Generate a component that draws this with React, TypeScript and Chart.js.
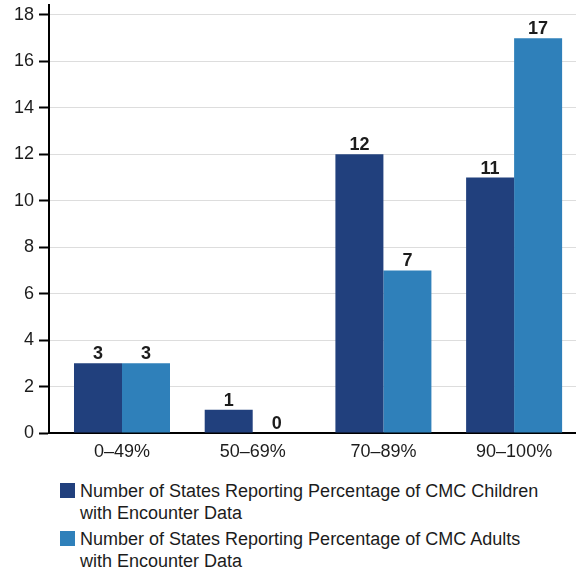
import React, { useEffect, useRef } from "react";
import { Chart, registerables } from "chart.js";

Chart.register(...registerables);

// Percentage bands of CMC members with encounter data
const categories = ["0–49%", "50–69%", "70–89%", "90–100%"];
// Number of states in each band
const childrenStates = [3, 1, 12, 11];
const adultsStates = [3, 0, 7, 17];
const seriesLabels = [
  ["Number of States Reporting Percentage of CMC Children", "with Encounter Data"],
  ["Number of States Reporting Percentage of CMC Adults", "with Encounter Data"],
];
const yTicks = [0, 2, 4, 6, 8, 10, 12, 14, 16, 18];

const DARK = "#21407d";
const LIGHT = "#2f80ba";
const TEXT = "#1c1c1c";
const FONT = "'Liberation Sans', Arial, Helvetica, sans-serif";

// Writes each bar's value just above it
const valueLabels = {
  id: "valueLabels",
  afterDatasetsDraw(chart: any) {
    const { ctx } = chart;
    ctx.save();
    ctx.fillStyle = TEXT;
    ctx.font = `bold 18px ${FONT}`;
    ctx.textAlign = "center";
    ctx.textBaseline = "alphabetic";
    chart.data.datasets.forEach((ds: any, i: number) => {
      const meta = chart.getDatasetMeta(i);
      meta.data.forEach((bar: any, j: number) => {
        ctx.fillText(String(ds.data[j]), bar.x, bar.y - 4);
      });
    });
    ctx.restore();
  },
};

export default function App() {
  const ref = useRef<HTMLCanvasElement>(null);

  useEffect(() => {
    if (!ref.current) return;
    const chart = new Chart(ref.current, {
      type: "bar",
      data: {
        labels: categories,
        datasets: [
          { label: seriesLabels[0].join(" "), data: childrenStates, backgroundColor: DARK },
          { label: seriesLabels[1].join(" "), data: adultsStates, backgroundColor: LIGHT },
        ],
      },
      options: {
        responsive: false,
        animation: false,
        layout: { padding: { top: 5, right: 0, left: 0, bottom: 0 } },
        datasets: { bar: { categoryPercentage: 0.7345, barPercentage: 1 } },
        plugins: {
          legend: { display: false },
          tooltip: { enabled: false },
        },
        scales: {
          x: {
            offset: true,
            grid: { display: false, drawTicks: false },
            border: { display: true, color: "#000", width: 2 },
            ticks: {
              color: TEXT,
              font: { family: FONT, size: 18 },
              padding: 8,
              maxRotation: 0,
            },
            afterBuildTicks(scale: any) {
              // leave a small gap between the value axis and the first band
              scale._startValue = -0.5585;
              scale._valueRange = 4.032;
            },
            afterFit(scale: any) {
              scale.height = 37;
              scale.paddingLeft = 0;
              scale.paddingRight = 0;
            },
          },
          y: {
            min: 0,
            max: 18.43,
            afterBuildTicks(scale: any) {
              scale.ticks = yTicks.map((v) => ({ value: v }));
            },
            ticks: {
              includeBounds: false,
              color: TEXT,
              font: { family: FONT, size: 18 },
              padding: 5,
            },
            grid: {
              color: "#dddddd",
              lineWidth: 1,
              tickColor: "#000",
              tickWidth: 2,
              tickLength: 10,
            },
            border: { display: true, color: "#000", width: 2 },
            afterFit(scale: any) {
              scale.width = 49;
              scale.paddingTop = 0;
              scale.paddingBottom = 0;
            },
          },
        },
      },
      plugins: [valueLabels],
    });
    return () => chart.destroy();
  }, []);

  return (
    <div style={{ position: "fixed", left: 0, top: 0, width: 576, height: 571, overflow: "hidden", background: "#fff" }}>
      <canvas ref={ref} width={576} height={470} style={{ display: "block" }} />
      <div
        style={{
          position: "absolute",
          left: 60,
          top: 480,
          fontFamily: FONT,
          fontSize: 18,
          lineHeight: "22px",
          color: TEXT,
        }}
      >
        {seriesLabels.map((lines, i) => (
          <div key={i} style={{ position: "relative", paddingLeft: 20, marginBottom: 4 }}>
            <span
              style={{
                position: "absolute",
                left: 0,
                top: 3,
                width: 15,
                height: 15,
                background: i === 0 ? DARK : LIGHT,
              }}
            />
            {lines.map((t, k) => (
              <div key={k}>{t}</div>
            ))}
          </div>
        ))}
      </div>
    </div>
  );
}
